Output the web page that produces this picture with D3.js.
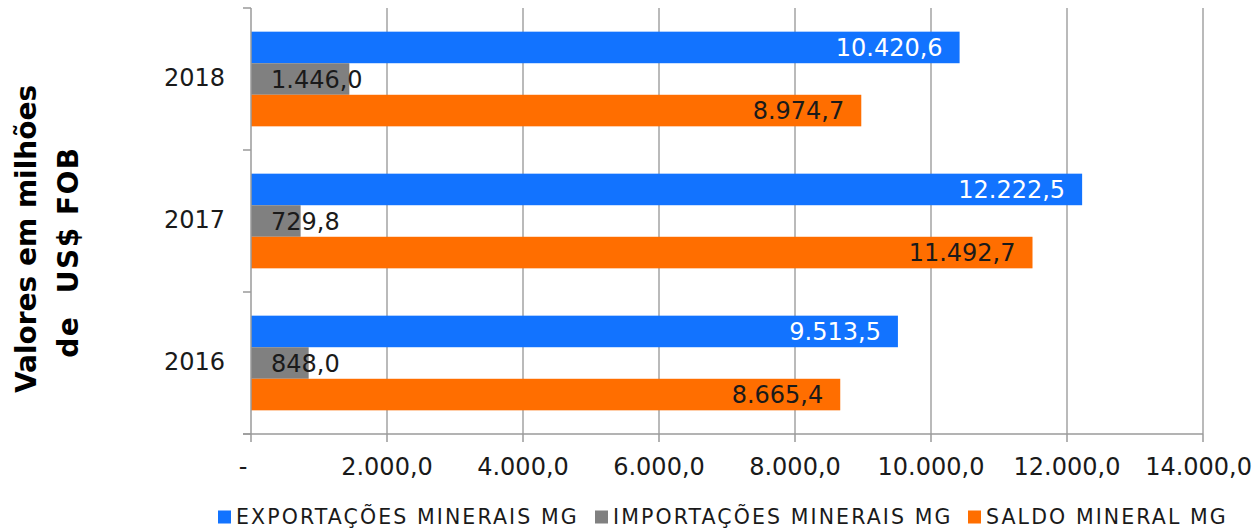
<!DOCTYPE html>
<html>
<head>
<meta charset="utf-8">
<script src="https://cdn.jsdelivr.net/npm/d3@7"></script>
<style>
  body { margin: 0; background: #fff; }
  svg { display: block; font-family: "DejaVu Sans", sans-serif; }
</style>
</head>
<body>
<svg id="chart" width="1254" height="530"></svg>
<script>
// data
const years = ['2018', '2017', '2016'];
const exportacoes = [10420.6, 12222.5, 9513.5];
const importacoes = [1446.0, 729.8, 848.0];
const saldo = [8974.7, 11492.7, 8665.4];
const seriesNames = ['EXPORTAÇÕES MINERAIS MG', 'IMPORTAÇÕES MINERAIS MG', 'SALDO MINERAL MG'];
const xTicks = [0, 2000, 4000, 6000, 8000, 10000, 12000, 14000];

const colors = ['#1273ff', '#808080', '#ff6e00'];
const series = [exportacoes, importacoes, saldo];

const svg = d3.select('#chart');
const W = 1254;
const plotLeft = 251, plotRight = 1203, plotTop = 8, plotBottom = 434;
const textColor = '#1a1a1a';

const locale = d3.formatLocale({ decimal: ',', thousands: '.', grouping: [3], currency: ['', ''] });
const fmt = locale.format(',.1f');

const x = d3.scaleLinear().domain([0, 14000]).range([plotLeft, plotRight]);
const y = d3.scaleBand().domain(years).range([plotTop, plotBottom]);
// gap width 50% -> bars fill 2/3 of each band
const inner = d3.scaleBand().domain(d3.range(3)).range([0, y.bandwidth()]).paddingOuter(0.75);

// vertical gridlines
svg.append('g').selectAll('line')
  .data(xTicks.slice(1))
  .enter().append('line')
  .attr('x1', d => x(d)).attr('x2', d => x(d))
  .attr('y1', plotTop).attr('y2', plotBottom)
  .attr('stroke', '#a3a3a3').attr('stroke-width', 1.5);

// bars
const rows = years.map((yr, i) => ({ yr, vals: series.map(s => s[i]) }));
const group = svg.append('g').selectAll('g')
  .data(rows).enter().append('g')
  .attr('transform', d => `translate(0,${y(d.yr)})`);

group.selectAll('rect')
  .data(d => d.vals.map((v, k) => ({ v, k })))
  .enter().append('rect')
  .attr('x', x(0))
  .attr('y', d => inner(d.k))
  .attr('width', d => x(d.v) - x(0))
  .attr('height', inner.bandwidth())
  .attr('fill', d => colors[d.k]);

// axes
const axisColor = '#9a9a9a';
svg.append('line')
  .attr('x1', plotLeft).attr('x2', plotLeft).attr('y1', plotTop).attr('y2', plotBottom)
  .attr('stroke', axisColor).attr('stroke-width', 1.5);
svg.append('line')
  .attr('x1', plotLeft - 8).attr('x2', plotRight).attr('y1', plotBottom).attr('y2', plotBottom)
  .attr('stroke', axisColor).attr('stroke-width', 1.5);

// y tick marks at band edges
const edges = years.map(d => y(d)).concat([plotBottom]);
svg.append('g').selectAll('line')
  .data(edges).enter().append('line')
  .attr('x1', plotLeft - 8).attr('x2', plotLeft)
  .attr('y1', d => d).attr('y2', d => d)
  .attr('stroke', axisColor).attr('stroke-width', 1.5);

// x tick marks
svg.append('g').selectAll('line')
  .data(xTicks).enter().append('line')
  .attr('x1', d => x(d)).attr('x2', d => x(d))
  .attr('y1', plotBottom).attr('y2', plotBottom + 8)
  .attr('stroke', axisColor).attr('stroke-width', 1.5);

// data labels (inside end; imports inside base)
group.selectAll('text')
  .data(d => d.vals.map((v, k) => ({ v, k })))
  .enter().append('text')
  .attr('x', d => d.k === 1 ? x(0) + 20 : x(d.v) - 17)
  .attr('y', d => inner(d.k) + inner.bandwidth() / 2)
  .attr('dy', '0.36em')
  .attr('text-anchor', d => d.k === 1 ? 'start' : 'end')
  .attr('fill', d => d.k === 0 ? '#fff' : textColor)
  .style('font-size', '24px')
  .text(d => fmt(d.v));

// x tick labels
const tickLabels = svg.append('g').selectAll('text')
  .data(xTicks).enter().append('text')
  .attr('x', d => d === 0 ? x(d) - 8 : x(d))
  .attr('y', 475)
  .attr('text-anchor', 'middle')
  .attr('fill', textColor)
  .style('font-size', '24px')
  .text(d => d === 0 ? '-' : fmt(d));

// keep the last tick label inside the picture
tickLabels.each(function () {
  const b = this.getBBox();
  const over = b.x + b.width - (W - 2);
  if (over > 0) d3.select(this).attr('x', +d3.select(this).attr('x') - over);
});

// year labels
svg.append('g').selectAll('text')
  .data(years).enter().append('text')
  .attr('x', 225)
  .attr('y', d => y(d) + y.bandwidth() / 2 - 2)
  .attr('dy', '0.36em')
  .attr('text-anchor', 'end')
  .attr('fill', textColor)
  .style('font-size', '24px')
  .text(d => d);

// y title, two lines
svg.append('text')
  .attr('transform', 'translate(36,239) rotate(-90)')
  .attr('text-anchor', 'middle')
  .attr('fill', '#000')
  .style('font-size', '28px')
  .style('font-weight', 'bold')
  .text('Valores em milhões');
svg.append('text')
  .attr('transform', 'translate(78,252) rotate(-90)')
  .attr('text-anchor', 'middle')
  .attr('fill', '#000')
  .style('font-size', '28px')
  .style('font-weight', 'bold')
  .style('white-space', 'pre')
  .style('letter-spacing', '1.5px')
  .text('de  US$ FOB');

// legend
const legendX = [218, 595, 968];
const legend = svg.append('g').selectAll('g')
  .data(seriesNames).enter().append('g')
  .attr('transform', (d, i) => `translate(${legendX[i]},517)`);
legend.append('rect')
  .attr('x', 0).attr('y', -6.5).attr('width', 13).attr('height', 13)
  .attr('fill', (d, i) => colors[i]);
legend.append('text')
  .attr('x', 18).attr('y', 0).attr('dy', '0.36em')
  .attr('fill', textColor)
  .style('font-size', '20.5px')
  .style('letter-spacing', '2.1px')
  .text(d => d);
</script>
</body>
</html>
